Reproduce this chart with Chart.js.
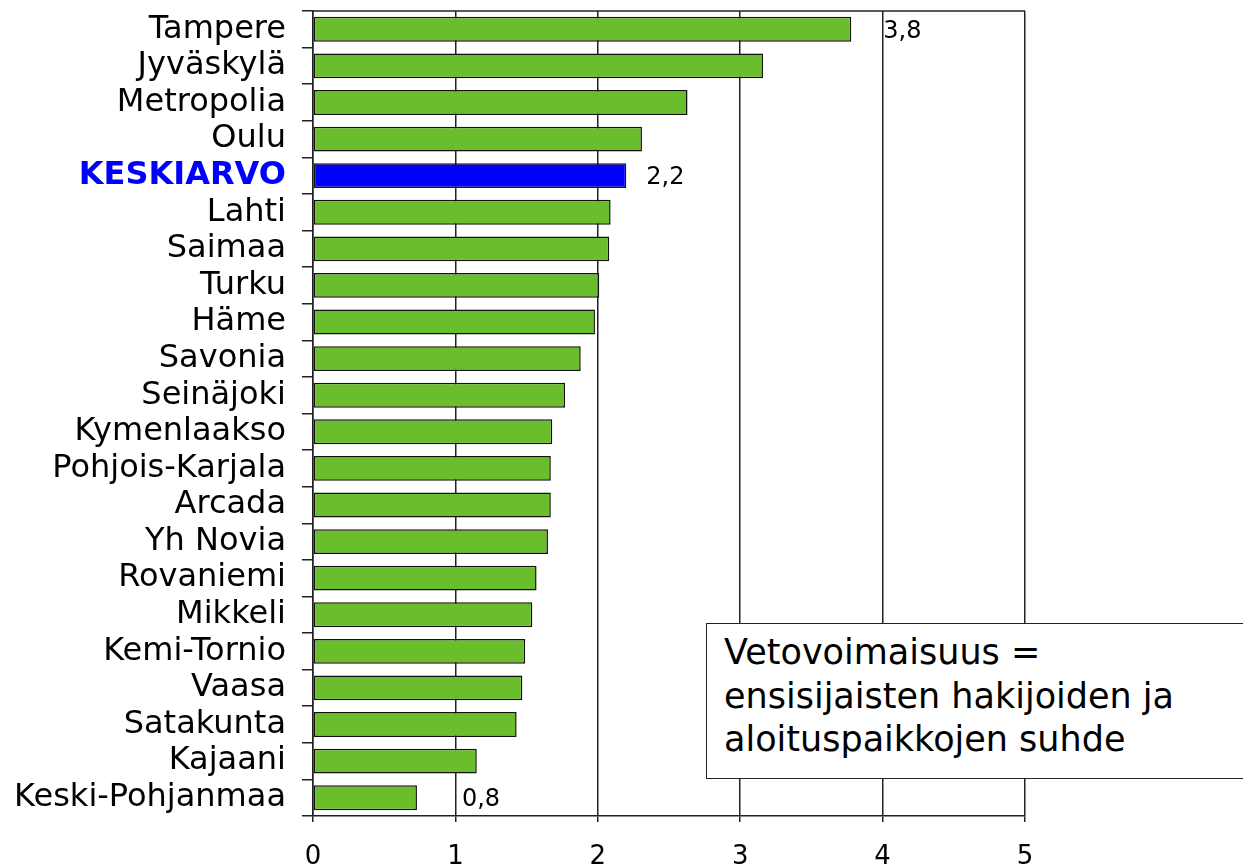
<!DOCTYPE html>
<html>
<head>
<meta charset="utf-8">
<script src="https://cdn.jsdelivr.net/npm/chart.js@4"></script>
<style>
  body { margin: 0; background: #fff; }
  #wrap { position: relative; width: 1243px; height: 867px; }
  #note {
    position: absolute; left: 706px; top: 623px; width: 560px; height: 156px;
    border: 1.5px solid #222; background: #fff; box-sizing: border-box;
    font-family: "DejaVu Sans", Verdana, sans-serif; font-size: 35px; line-height: 43.5px;
    padding: 7px 0 0 17px; color: #000; white-space: nowrap;
  }
</style>
</head>
<body>
<div id="wrap">
  <canvas id="chart"></canvas>
  <div id="note">Vetovoimaisuus =<br>ensisijaisten hakijoiden ja<br>aloituspaikkojen suhde</div>
</div>
<script>
// ammattikorkeakoulut, vetovoimaisuus
const kategoriat = ["Tampere", "Jyväskylä", "Metropolia", "Oulu", "KESKIARVO", "Lahti", "Saimaa",
  "Turku", "Häme", "Savonia", "Seinäjoki", "Kymenlaakso", "Pohjois-Karjala", "Arcada", "Yh Novia",
  "Rovaniemi", "Mikkeli", "Kemi-Tornio", "Vaasa", "Satakunta", "Kajaani", "Keski-Pohjanmaa"];
const arvot = [3.78, 3.16, 2.63, 2.31, 2.20, 2.09, 2.08, 2.01, 1.98, 1.88, 1.77, 1.68, 1.67, 1.67,
  1.65, 1.57, 1.54, 1.49, 1.47, 1.43, 1.15, 0.73];
const xTicks = [0, 1, 2, 3, 4, 5];
const merkityt = [0, 4, 21];          // rivit joilla arvo näkyy
const merkkiTekstit = ["3,8", "2,2", "0,8"];

const keskiIndex = kategoriat.indexOf("KESKIARVO");
const vihrea = "#6abd2b";
const sininen = "#0000ff";

// arvotekstit + yläreuna
const merkinnat = {
  id: "merkinnat",
  afterDatasetsDraw(chart, args, opts) {
    const ctx = chart.ctx;
    const meta = chart.getDatasetMeta(0);
    ctx.save();
    ctx.font = "24px 'DejaVu Sans', Verdana, sans-serif";
    ctx.fillStyle = "#000";
    ctx.textBaseline = "middle";
    merkityt.forEach((idx, i) => {
      const bar = meta.data[idx];
      ctx.fillText(merkkiTekstit[i], bar.x + opts.offsets[i], bar.y + 2);
    });
    const a = chart.chartArea;
    ctx.strokeStyle = "#222";
    ctx.lineWidth = 1.5;
    ctx.beginPath();
    ctx.moveTo(a.left, a.top);
    ctx.lineTo(a.right, a.top);
    ctx.stroke();
    ctx.restore();
  }
};

const ctx = document.getElementById("chart").getContext("2d");
new Chart(ctx, {
  type: "bar",
  data: {
    labels: kategoriat,
    datasets: [{
      data: arvot,
      backgroundColor: kategoriat.map((k, i) => i === keskiIndex ? sininen : vihrea),
      borderColor: "#111",
      borderWidth: 1.5,
      borderSkipped: false,
      barPercentage: 0.68,
      categoryPercentage: 1
    }]
  },
  options: {
    indexAxis: "y",
    responsive: true,
    maintainAspectRatio: false,
    animation: false,
    layout: { padding: { top: 11, right: 218, left: 0, bottom: 0 } },
    plugins: {
      legend: { display: false },
      tooltip: { enabled: false },
      merkinnat: { offsets: [32, 20, 45] }
    },
    scales: {
      x: {
        min: 0,
        max: 5,
        afterBuildTicks: scale => { scale.ticks = xTicks.map(v => ({ value: v })); },
        afterFit: scale => { scale.height = 51; },
        grid: { color: "#222", lineWidth: 1.5, tickLength: 6, drawOnChartArea: true },
        border: { color: "#222", width: 1.5 },
        ticks: {
          color: "#000",
          padding: 20,
          font: { family: "'DejaVu Sans', Verdana, sans-serif", size: 26 }
        }
      },
      y: {
        afterFit: scale => { scale.width = 313; scale.paddingTop = 0; scale.paddingBottom = 0; },
        grid: { drawOnChartArea: false, tickLength: 11, color: "#222", lineWidth: 1.5 },
        border: { color: "#222", width: 1.5 },
        ticks: {
          autoSkip: false,
          padding: 16,
          color: c => c.index === keskiIndex ? sininen : "#000",
          font: c => ({
            family: "'DejaVu Sans', Verdana, sans-serif",
            size: 32,
            weight: c.index === keskiIndex ? "bold" : "normal"
          })
        }
      }
    }
  },
  plugins: [merkinnat]
});
</script>
</body>
</html>
